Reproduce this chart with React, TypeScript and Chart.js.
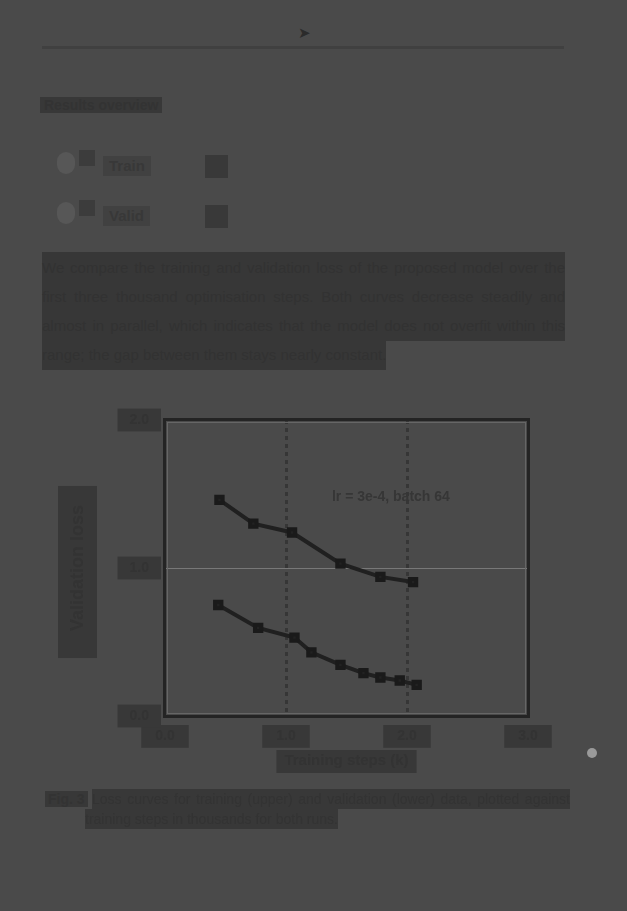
import React, { useEffect, useRef } from "react";
import { Chart, registerables } from "chart.js";

Chart.register(...registerables);

// ---- data ----
const xTickLabels = ["0.0", "1.0", "2.0", "3.0"];
const yTickLabels = ["0.0", "1.0", "2.0"];
const seriesNames = ["Train loss", "Validation loss"];
const seriesAX = [0.45, 0.73, 1.05, 1.45, 1.78, 2.05];
const seriesAY = [1.46, 1.3, 1.24, 1.03, 0.94, 0.905];
const seriesBX = [0.44, 0.77, 1.07, 1.21, 1.45, 1.64, 1.78, 1.94, 2.08];
const seriesBY = [0.75, 0.595, 0.53, 0.43, 0.345, 0.29, 0.26, 0.24, 0.21];
const xTitle = "Training steps (k)";
const yTitle = "Validation loss";
const noteText = "lr = 3e-4, batch 64";

const BG = "#4a4a4a";
const BLOCK = "#383838";
const INK = "#333333";

const toPoints = (xs: number[], ys: number[]) => xs.map((x, i) => ({ x, y: ys[i] }));

const framePlugin = {
  id: "frameAndBackdrops",
  beforeDraw(chart: any) {
    const ctx = chart.ctx;
    const xs = chart.scales.x;
    const ys = chart.scales.y;
    ctx.save();
    // y title backdrop
    ctx.font = "bold 18px 'Liberation Sans', Arial, sans-serif";
    const wy = ctx.measureText(yTitle).width + 46;
    const cy = (chart.chartArea.top + chart.chartArea.bottom) / 2 + 4;
    ctx.fillStyle = BLOCK;
    ctx.fillRect(ys.left, cy - wy / 2, 39, wy);
    // x title backdrop
    ctx.font = "bold 15px 'Liberation Sans', Arial, sans-serif";
    const wx = ctx.measureText(xTitle).width + 16;
    const cx = (chart.chartArea.left + chart.chartArea.right) / 2;
    ctx.fillRect(cx - wx / 2, xs.bottom - 24, wx, 23);
    ctx.restore();
  },
  afterDatasetsDraw(chart: any) {
    const ctx = chart.ctx;
    const { left, top, right, bottom } = chart.chartArea;
    const xs = chart.scales.x;
    const ys = chart.scales.y;
    ctx.save();
    // annotation text
    ctx.font = "bold 14px 'Liberation Sans', Arial, sans-serif";
    ctx.fillStyle = "#363636";
    ctx.textBaseline = "middle";
    ctx.fillText(noteText, xs.getPixelForValue(1.38), ys.getPixelForValue(1.48));
    // frame
    ctx.strokeStyle = "#666666";
    ctx.lineWidth = 1;
    ctx.strokeRect(left + 2.5, top + 2.5, right - left - 5, bottom - top - 5);
    ctx.strokeStyle = "#242424";
    ctx.lineWidth = 3;
    ctx.strokeRect(left - 0.5, top - 0.5, right - left + 1, bottom - top + 1);
    ctx.restore();
  },
};

function LineChart() {
  const ref = useRef<HTMLCanvasElement | null>(null);
  useEffect(() => {
    if (!ref.current) return;
    const ds = (label: string, data: any) => ({
      label,
      data,
      borderColor: "#202020",
      backgroundColor: "#222222",
      borderWidth: 4,
      pointStyle: "rect",
      pointRadius: 4.5,
      pointBorderColor: "#1a1a1a",
      tension: 0,
    });
    const chart = new Chart(ref.current, {
      type: "line",
      data: {
        datasets: [
          ds(seriesNames[0], toPoints(seriesAX, seriesAY)),
          ds(seriesNames[1], toPoints(seriesBX, seriesBY)),
        ],
      },
      options: {
        animation: false,
        responsive: false,
        maintainAspectRatio: false,
        layout: { padding: { left: 18, top: 25, right: 72, bottom: 16 } },
        plugins: { legend: { display: false }, tooltip: { enabled: false } },
        scales: {
          x: {
            type: "linear",
            min: 0,
            max: 3,
            afterFit: (s: any) => {
              s.height = 58;
            },
            ticks: {
              stepSize: 1,
              padding: 12,
              color: INK,
              font: { size: 14, family: "'Liberation Sans', Arial, sans-serif", weight: "bold" },
              callback: (_v: any, i: number) => xTickLabels[i],
              showLabelBackdrop: true,
              backdropColor: BLOCK,
              backdropPadding: { x: 14, y: 3 },
            },
            grid: {
              drawTicks: false,
              color: (c: any) => (c.index === 1 || c.index === 2 ? "#363636" : "rgba(0,0,0,0)"),
              lineWidth: 3,
            },
            border: { display: false, dash: [4, 4] },
            title: {
              display: true,
              text: xTitle,
              color: INK,
              font: { size: 15, family: "'Liberation Sans', Arial, sans-serif", weight: "bold" },
              padding: { top: 0, bottom: 4 },
            },
          },
          y: {
            type: "linear",
            min: 0,
            max: 2,
            afterFit: (s: any) => {
              s.width = 107;
            },
            ticks: {
              stepSize: 1,
              padding: 16,
              color: INK,
              font: { size: 14, family: "'Liberation Sans', Arial, sans-serif", weight: "bold" },
              callback: (_v: any, i: number) => yTickLabels[i],
              showLabelBackdrop: true,
              backdropColor: BLOCK,
              backdropPadding: { x: 12, y: 3 },
            },
            grid: {
              drawTicks: false,
              color: (c: any) => (c.index === 1 ? "#787878" : "rgba(0,0,0,0)"),
              lineWidth: 1,
            },
            border: { display: false },
            title: {
              display: true,
              text: yTitle,
              color: INK,
              font: { size: 18, family: "'Liberation Sans', Arial, sans-serif", weight: "bold" },
              padding: { top: 9, bottom: 0 },
            },
          },
        },
      } as any,
      plugins: [framePlugin],
    });
    return () => chart.destroy();
  }, []);
  return (
    <canvas
      ref={ref}
      width={560}
      height={395}
      style={{ position: "absolute", left: 40, top: 395, width: 560, height: 395 }}
    />
  );
}

const abs = (l: number, t: number, extra: React.CSSProperties = {}): React.CSSProperties => ({
  position: "absolute",
  left: l,
  top: t,
  ...extra,
});

const hl: React.CSSProperties = {
  background: BLOCK,
  color: INK,
  boxDecorationBreak: "clone",
  WebkitBoxDecorationBreak: "clone" as any,
};

export default function App() {
  const sans = "'Liberation Sans', Arial, sans-serif";
  return (
    <div
      style={{
        position: "absolute",
        left: 0,
        top: 0,
        width: 627,
        height: 911,
        background: BG,
        overflow: "hidden",
        fontFamily: sans,
      }}
    >
      <div style={abs(298, 24, { color: "#2b2b2b", fontSize: 15 })}>➤</div>
      <div style={abs(42, 46, { width: 522, height: 3, background: "#404040" })} />
      <div style={abs(40, 95, { fontSize: 14, fontWeight: "bold", lineHeight: "20px" })}>
        <span style={{ ...hl, padding: "0 4px" }}>Results overview</span>
      </div>

      {[
        { top: 150, label: "Train" },
        { top: 200, label: "Valid" },
      ].map((r, i) => (
        <div key={i} style={abs(55, r.top, { height: 30, width: 180 })}>
          <span
            style={abs(2, 2, {
              width: 18,
              height: 22,
              borderRadius: 9,
              background: "#575757",
            })}
          />
          <span style={abs(24, 0, { width: 16, height: 16, background: "#3c3c3c" })} />
          <span
            style={abs(48, 6, {
              fontSize: 15,
              fontWeight: "bold",
              color: "#383838",
              background: "#414141",
              padding: "0 6px",
              lineHeight: "20px",
            })}
          >
            {r.label}
          </span>
          <span style={abs(150, 5, { width: 23, height: 23, background: "#393939" })} />
        </div>
      ))}

      <div
        style={abs(42, 253, {
          width: 523,
          fontSize: 15,
          lineHeight: "29px",
          textAlign: "justify",
        })}
      >
        <span style={{ ...hl, background: "#373737", color: "#323232", padding: "7px 0" }}>
          We compare the training and validation loss of the proposed model over the first
          three thousand optimisation steps. Both curves decrease steadily and almost in
          parallel, which indicates that the model does not overfit within this range;
          the gap between them stays nearly constant.
        </span>
      </div>

      <LineChart />

      <div
        style={abs(587, 748, {
          width: 10,
          height: 10,
          borderRadius: 5,
          background: "#9a9a9a",
        })}
      />

      <div style={abs(45, 789, { fontSize: 14, fontWeight: "bold", lineHeight: "20px" })}>
        <span style={{ ...hl, padding: "0 3px" }}>Fig. 3</span>
      </div>
      <div
        style={abs(85, 789, {
          width: 485,
          fontSize: 14,
          lineHeight: "20px",
          textAlign: "justify",
          textIndent: 7,
        })}
      >
        <span style={{ ...hl, padding: "2px 0" }}>
          Loss curves for training (upper) and validation (lower) data, plotted against
          training steps in thousands for both runs.
        </span>
      </div>
    </div>
  );
}
